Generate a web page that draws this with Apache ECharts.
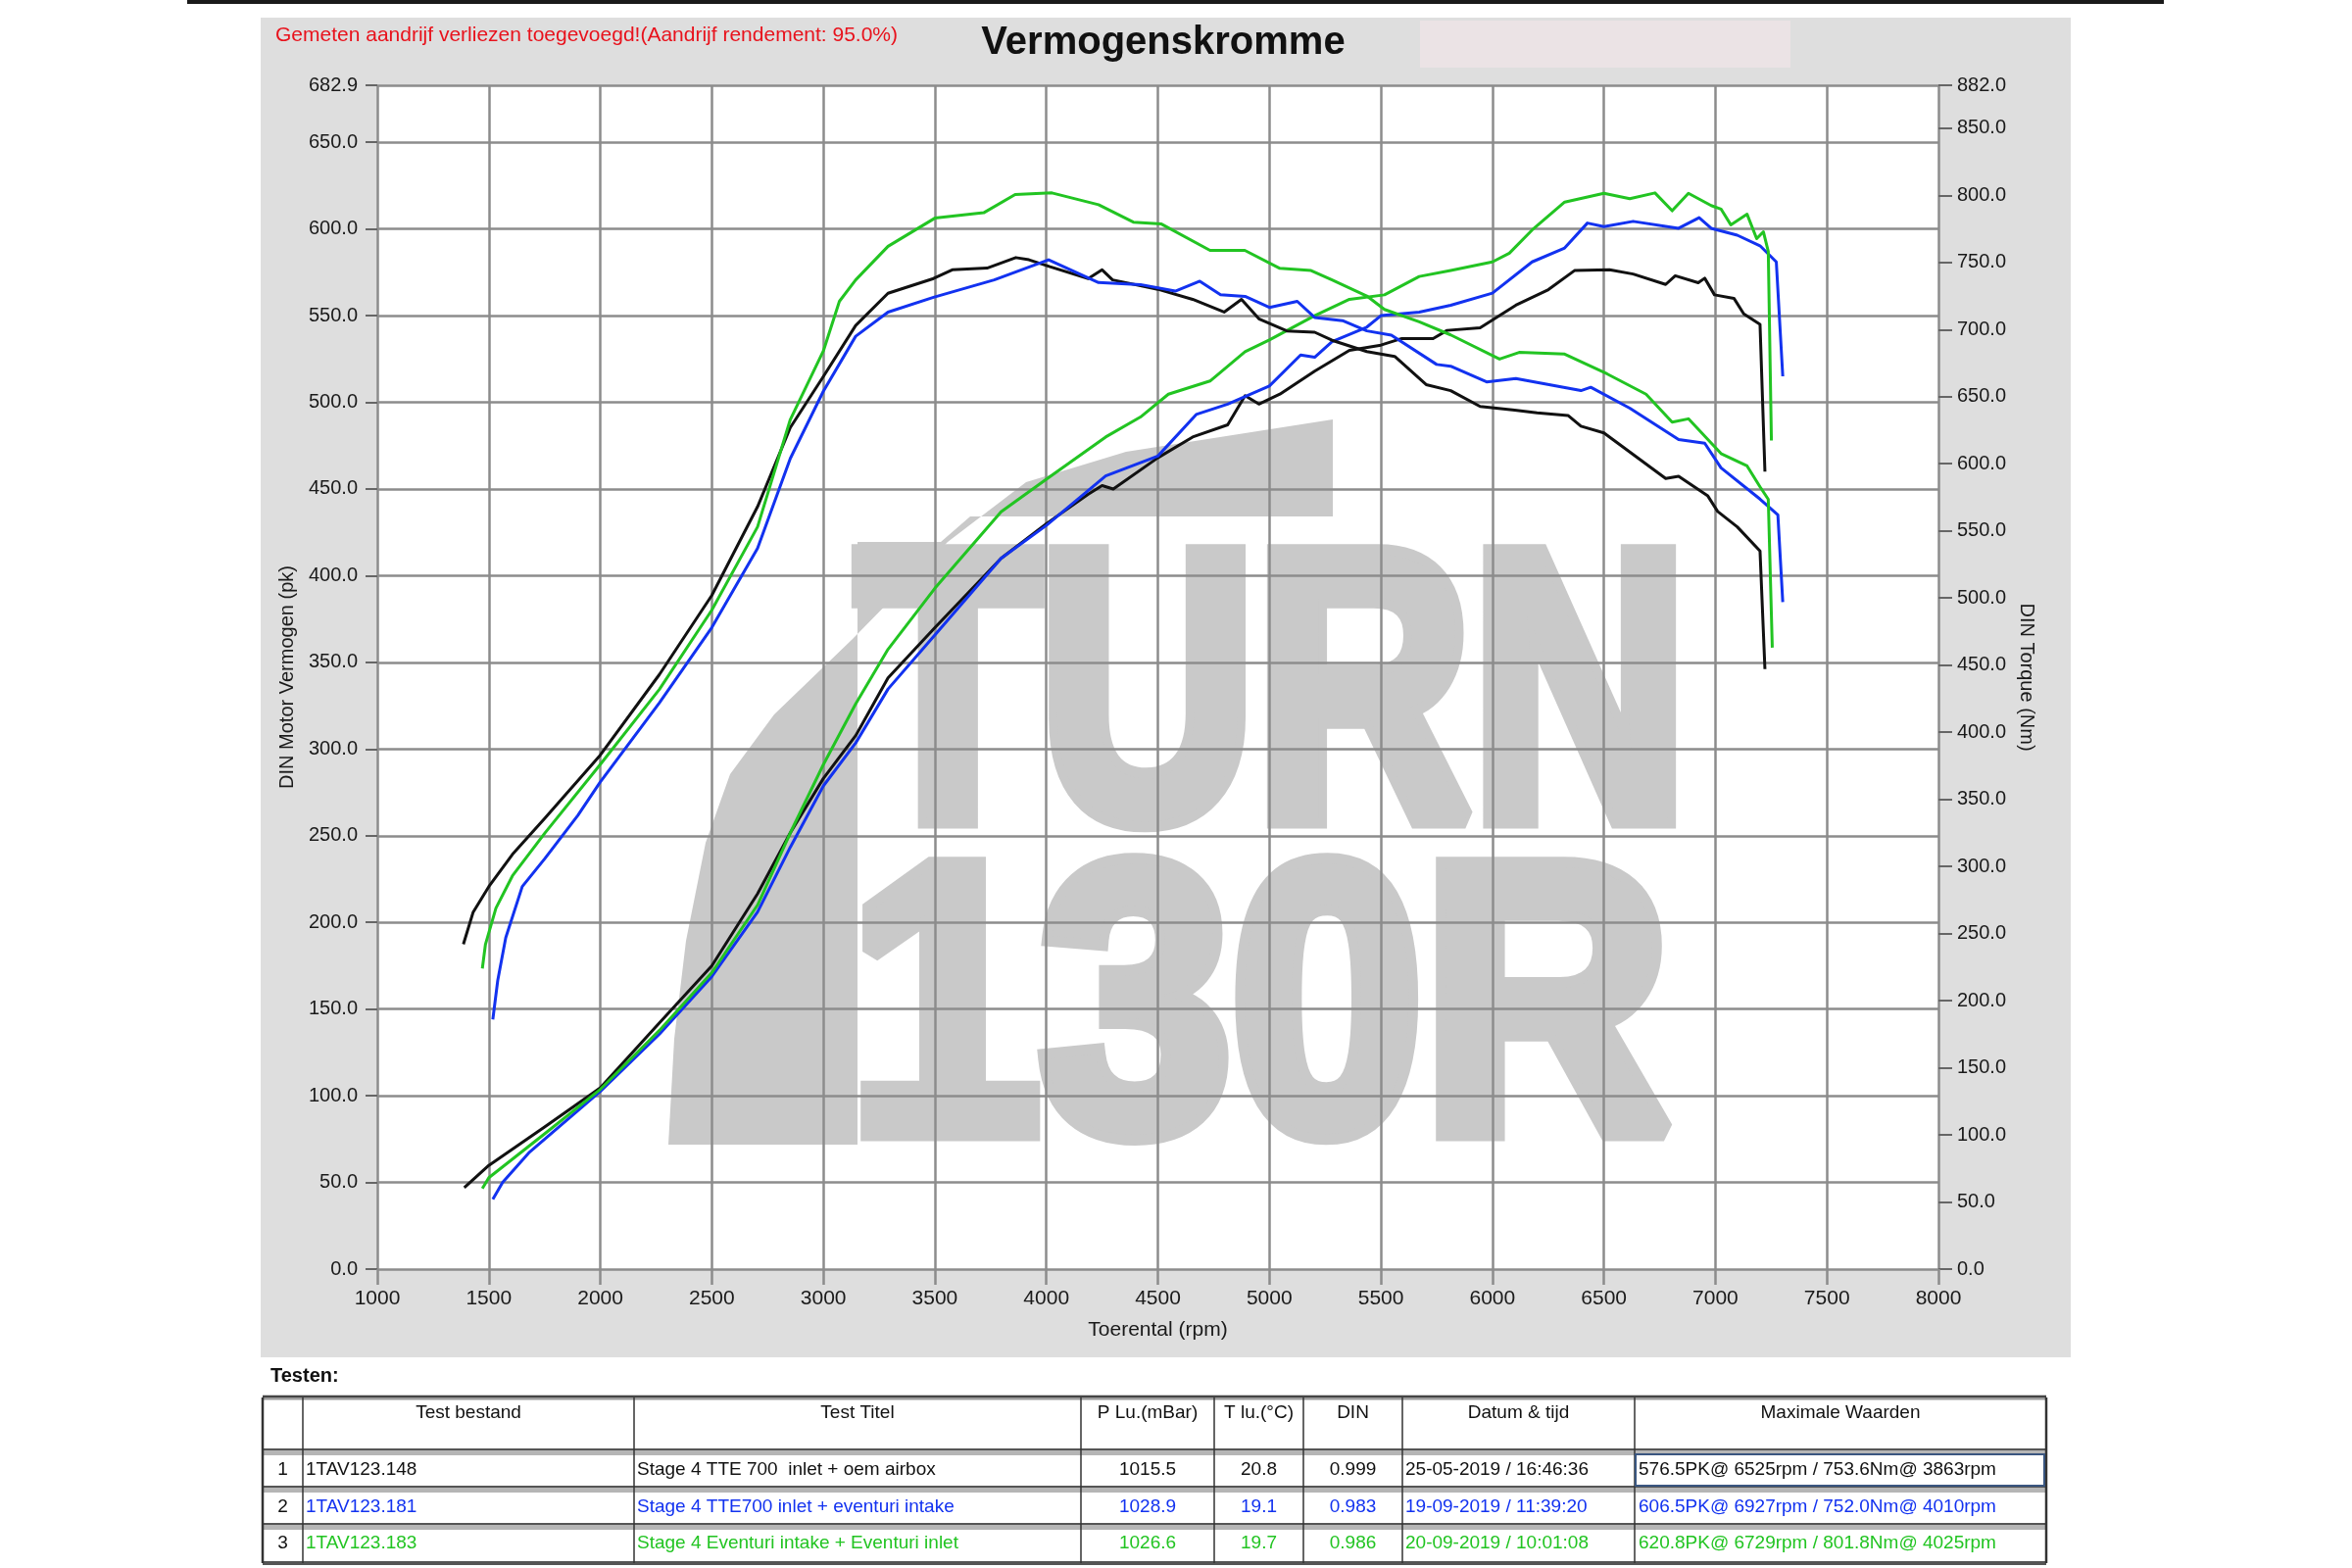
<!DOCTYPE html>
<html>
<head>
<meta charset="utf-8">
<script src="https://cdn.jsdelivr.net/npm/echarts@6/dist/echarts.min.js"></script>
<style>
html,body{margin:0;padding:0;background:#fff;}
#chart{width:2400px;height:1600px;}
</style>
</head>
<body>
<div id="chart"></div>
<script>
// ---- Curve data: [rpm, value] ----
const powerTest1 = [[1390,47],[1500,59.8],[1750,82],[2000,104.6],[2265,142],[2500,175],[2705,216.5],[2852,251.7],[3000,283],[3145,307.7],[3290,341],[3500,370],[3797,410],[4000,430],[4188,447],[4250,452],[4300,450],[4500,468],[4656,480],[4813,487],[4891,503.8],[4953,499],[5047,504.7],[5203,518],[5359,530],[5500,533],[5594,536.8],[5734,536.8],[5797,541.5],[5945,543],[6105,556],[6251,565],[6368,576],[6525,576.5],[6631,574],[6777,568],[6820,573],[6923,569],[6952,571.6],[6996,562],[7083,560],[7127,551],[7200,545],[7222,460]];
const powerTest2 = [[1518,40.3],[1562,50],[1679,67],[2000,102.5],[2265,135.6],[2500,168.8],[2705,206],[2852,243.4],[3000,278.7],[3145,303.5],[3290,334.6],[3500,365.8],[3797,410],[4000,429],[4266,457.5],[4500,469],[4672,493],[4813,499],[5000,509.4],[5140,527.3],[5203,526],[5281,535],[5437,543.4],[5500,550],[5672,552],[5813,556],[6000,563],[6178,581],[6324,589],[6426,603.4],[6500,601.4],[6631,604.4],[6835,600.4],[6927,606.5],[6981,600.4],[7098,596.4],[7200,590.3],[7273,581],[7302,515]];
const powerTest3 = [[1471,46.5],[1500,52.7],[1750,78],[2000,103.7],[2265,137.7],[2500,171],[2705,210],[2852,251.7],[3000,291],[3145,326],[3290,357.5],[3500,392.7],[3797,436.8],[4000,455.6],[4266,480],[4422,491.5],[4547,504.7],[4734,512.3],[4891,529.2],[5000,536],[5203,550],[5359,559.4],[5516,562],[5672,572.6],[5813,576],[6000,581],[6076,586],[6178,599.4],[6324,615.5],[6500,620.6],[6616,617.5],[6729,620.8],[6806,610.5],[6879,620.6],[6981,613.5],[7025,611.5],[7069,602.4],[7142,608.5],[7185,594.4],[7215,598.4],[7237,587],[7251,478]];
const torqueTest1 = [[1386,242],[1430,266],[1500,285],[1606,309],[1752,336],[2000,383],[2265,443],[2500,502],[2705,568],[2852,627],[3000,665],[3145,703],[3290,727],[3494,738],[3578,744.5],[3734,745.8],[3863,753.6],[3922,752],[4016,746.8],[4188,738],[4250,744.5],[4297,737],[4500,730],[4656,722.5],[4797,713],[4875,722.5],[4953,708],[5078,699],[5203,698],[5281,692],[5437,683.6],[5562,680],[5703,659],[5813,654.5],[5945,642.7],[6100,640],[6200,638],[6339,636],[6397,628],[6500,623],[6777,589],[6835,590.7],[6966,576],[7010,564.5],[7098,553],[7200,535],[7222,447]];
const torqueTest2 = [[1518,186],[1540,215],[1576,247],[1650,285],[1752,306],[1899,338],[2000,363],[2265,422],[2500,478],[2705,537],[2852,604],[3000,654],[3145,695],[3290,713],[3494,724],[3766,737],[4010,752],[4234,735],[4422,733.5],[4578,728.6],[4688,736],[4781,726],[4891,724.7],[5000,716.5],[5125,721],[5203,709],[5328,706.6],[5437,699],[5547,695.8],[5750,674],[5813,672.7],[5974,661],[6105,663.5],[6397,654.5],[6441,657],[6616,641.4],[6835,618],[6952,615.3],[7025,597],[7200,573.7],[7280,562],[7302,497]];
const torqueTest3 = [[1471,224],[1485,242],[1532,269],[1606,293],[1752,325],[2000,376],[2265,432],[2500,491],[2705,553],[2852,633],[3000,684],[3072,721],[3145,737],[3290,762],[3500,783],[3719,787],[3860,800.6],[4025,801.8],[4234,793],[4390,780],[4516,778.6],[4734,759],[4890,759],[5047,745.6],[5187,744],[5281,737],[5437,725],[5516,715],[5672,705.7],[5813,696],[6032,678],[6120,683],[6324,681.7],[6514,667],[6689,651.8],[6806,631],[6879,633.5],[7025,607.6],[7142,598.4],[7200,582.8],[7237,573.5],[7255,463]];

// ---- Texts ----
const titleText = 'Vermogenskromme';
const noteText = 'Gemeten aandrijf verliezen toegevoegd!(Aandrijf rendement: 95.0%)';
const xName = 'Toerental (rpm)';
const yLeftName = 'DIN Motor Vermogen (pk)';
const yRightName = 'DIN Torque (Nm)';
const tableHeaders = ['', 'Test bestand', 'Test Titel', 'P Lu.(mBar)', 'T lu.(°C)', 'DIN', 'Datum & tijd', 'Maximale Waarden'];
const testIndex = ['1', '2', '3'];
const testFiles = ['1TAV123.148', '1TAV123.181', '1TAV123.183'];
const testTitles = ['Stage 4 TTE 700  inlet + oem airbox', 'Stage 4 TTE700 inlet + eventuri intake', 'Stage 4 Eventuri intake + Eventuri inlet'];
const pressures = ['1015.5', '1028.9', '1026.6'];
const temps = ['20.8', '19.1', '19.7'];
const dinFactors = ['0.999', '0.983', '0.986'];
const dates = ['25-05-2019 / 16:46:36', '19-09-2019 / 11:39:20', '20-09-2019 / 10:01:08'];
const maxValues = ['576.5PK@ 6525rpm / 753.6Nm@ 3863rpm', '606.5PK@ 6927rpm / 752.0Nm@ 4010rpm', '620.8PK@ 6729rpm / 801.8Nm@ 4025rpm'];
const testColors = ['#111111', '#1232f0', '#22c422'];

const FONT = '"Liberation Sans", Arial, sans-serif';
const chart = echarts.init(document.getElementById('chart'), null, {renderer: 'canvas'});

const gridL = 385, gridT = 87, gridW = 1593, gridH = 1208;

// ---- graphics ----
const g = [];
g.push({type: 'rect', z: -30, shape: {x: 191, y: 0, width: 2017, height: 4}, style: {fill: '#1a1a1a'}});
g.push({type: 'rect', z: -30, shape: {x: 266, y: 18, width: 1847, height: 1367}, style: {fill: '#dedede'}});
g.push({type: 'rect', z: -29, shape: {x: 1449, y: 21, width: 378, height: 48}, style: {fill: '#ebe3e5'}});
g.push({type: 'rect', z: -28, shape: {x: gridL, y: gridT, width: gridW, height: gridH}, style: {fill: '#ffffff'}});
// watermark
const wm = '#c9c9c9';
g.push({type: 'polygon', z: -20, shape: {points: [[682,1168],[688,1060],[700,960],[720,860],[745,790],[790,729],[870,652],[967,553],[1047,492],[1149,461],[1360,428],[1360,527],[990,527],[960,553],[875,553],[875,1168]]}, style: {fill: wm}});
g.push({type: 'text', z: -20, x: 874, y: 727, scaleX: 0.783, style: {text: 'TURN', fontFamily: FONT, fontWeight: 'bold', fontSize: 390, fill: wm, stroke: wm, lineWidth: 22, align: 'left', verticalAlign: 'middle'}});
g.push({type: 'text', z: -20, x: 866, y: 1046, scaleX: 0.9, style: {text: '130R', fontFamily: FONT, fontWeight: 'bold', fontSize: 390, fill: wm, stroke: wm, lineWidth: 22, align: 'left', verticalAlign: 'middle'}});
// header texts
g.push({type: 'text', x: 281, y: 36, style: {text: noteText, fontFamily: FONT, fontSize: 21, fill: '#e8121c', align: 'left', verticalAlign: 'middle'}});
g.push({type: 'text', x: 1187, y: 44, style: {text: titleText, fontFamily: FONT, fontSize: 40, fontWeight: 'bold', fill: '#111', align: 'center', verticalAlign: 'middle'}});
g.push({type: 'text', x: 276, y: 1404, style: {text: 'Testen:', fontFamily: FONT, fontSize: 20, fontWeight: 'bold', fill: '#111', align: 'left', verticalAlign: 'middle'}});

// table
const colX = [268, 309, 647, 1103, 1239, 1330, 1431, 1668, 2088];
const rowY = [1426, 1481, 1519, 1557, 1595];
g.push({type: 'line', shape: {x1: colX[0], y1: rowY[0], x2: colX[8], y2: rowY[0]}, style: {stroke: '#9a9a9a', lineWidth: 5}});
g.push({type: 'line', shape: {x1: colX[0], y1: rowY[0]-1, x2: colX[8], y2: rowY[0]-1}, style: {stroke: '#444', lineWidth: 2}});
for (let r = 1; r <= 3; r++) {
  g.push({type: 'line', shape: {x1: colX[0], y1: rowY[r]+1, x2: colX[8], y2: rowY[r]+1}, style: {stroke: '#b5b5b5', lineWidth: 6}});
  g.push({type: 'line', shape: {x1: colX[0], y1: rowY[r]-2, x2: colX[8], y2: rowY[r]-2}, style: {stroke: '#555', lineWidth: 2}});
}
g.push({type: 'line', shape: {x1: colX[0], y1: rowY[4], x2: colX[8], y2: rowY[4]}, style: {stroke: '#555', lineWidth: 4}});
for (let c = 0; c < colX.length; c++) {
  g.push({type: 'line', shape: {x1: colX[c], y1: rowY[0], x2: colX[c], y2: rowY[4]}, style: {stroke: '#333', lineWidth: (c === 0 || c === 8) ? 2.5 : 1.5}});
}
g.push({type: 'rect', shape: {x: colX[7]+1, y: rowY[1]+3, width: colX[8]-colX[7]-3, height: rowY[2]-rowY[1]-6}, style: {fill: 'none', stroke: '#3a5680', lineWidth: 2}});
for (let c = 1; c < tableHeaders.length; c++) {
  g.push({type: 'text', x: (colX[c] + colX[c+1]) / 2, y: 1442, style: {text: tableHeaders[c], fontFamily: FONT, fontSize: 19, fill: '#111', align: 'center', verticalAlign: 'middle'}});
}
const rowTextY = [1500, 1538, 1575];
for (let r = 0; r < 3; r++) {
  const col = testColors[r];
  const y = rowTextY[r];
  const cell = (text, x, align, fill) => g.push({type: 'text', x: x, y: y, style: {text: text, fontFamily: FONT, fontSize: 19, fill: fill, align: align, verticalAlign: 'middle'}});
  cell(testIndex[r], (colX[0]+colX[1])/2, 'center', '#111');
  cell(testFiles[r], colX[1]+3, 'left', col);
  cell(testTitles[r], colX[2]+3, 'left', col);
  cell(pressures[r], (colX[3]+colX[4])/2, 'center', col);
  cell(temps[r], (colX[4]+colX[5])/2, 'center', col);
  cell(dinFactors[r], (colX[5]+colX[6])/2, 'center', col);
  cell(dates[r], colX[6]+3, 'left', col);
  cell(maxValues[r], colX[7]+4, 'left', col);
}

const axisLabelStyle = {fontFamily: FONT, fontSize: 20, color: '#1a1a1a'};
const gridLine = {show: true, lineStyle: {color: '#8c8c8c', width: 2.5}};

function mkSeries(data, color, yIdx) {
  return {type: 'line', data: data, yAxisIndex: yIdx, showSymbol: false, symbol: 'none', smooth: false,
    lineStyle: {color: color, width: 3, join: 'round'}, itemStyle: {color: color}, z: 5, animation: false};
}

const option = {
  animation: false,
  backgroundColor: '#ffffff',
  graphic: {elements: g},
  grid: {left: gridL, top: gridT, width: gridW, height: gridH, containLabel: false},
  xAxis: {
    type: 'value', min: 1000, max: 8000, interval: 500,
    name: xName, nameLocation: 'middle', nameGap: 52,
    nameTextStyle: {fontFamily: FONT, fontSize: 21, color: '#1a1a1a'},
    axisLine: {show: false},
    axisTick: {show: true, length: 16, lineStyle: {color: '#8c8c8c', width: 2.5}},
    axisLabel: {margin: 20, fontFamily: FONT, fontSize: 21, color: '#1a1a1a', formatter: v => String(v)},
    splitLine: gridLine
  },
  yAxis: [
    {
      type: 'value', min: 0, max: 682.9, interval: 50, position: 'left',
      name: yLeftName, nameLocation: 'middle', nameGap: 82, nameRotate: 90,
      nameTextStyle: {fontFamily: FONT, fontSize: 20, color: '#1a1a1a'},
      axisLine: {show: false},
      axisTick: {show: true, length: 12, lineStyle: {color: '#666', width: 2}},
      axisLabel: Object.assign({margin: 20, formatter: v => v.toFixed(1)}, axisLabelStyle),
      splitLine: gridLine
    },
    {
      type: 'value', min: 0, max: 882, interval: 50, position: 'right',
      name: yRightName, nameLocation: 'middle', nameGap: 80, nameRotate: -90,
      nameTextStyle: {fontFamily: FONT, fontSize: 20, color: '#1a1a1a'},
      axisLine: {show: false},
      axisTick: {show: true, length: 14, lineStyle: {color: '#666', width: 2}},
      axisLabel: Object.assign({margin: 19, formatter: v => v.toFixed(1)}, axisLabelStyle),
      splitLine: {show: false}
    }
  ],
  series: [
    mkSeries(powerTest1, testColors[0], 0),
    mkSeries(powerTest2, testColors[1], 0),
    mkSeries(powerTest3, testColors[2], 0),
    mkSeries(torqueTest1, testColors[0], 1),
    mkSeries(torqueTest2, testColors[1], 1),
    mkSeries(torqueTest3, testColors[2], 1)
  ]
};
chart.setOption(option);
</script>
</body>
</html>
